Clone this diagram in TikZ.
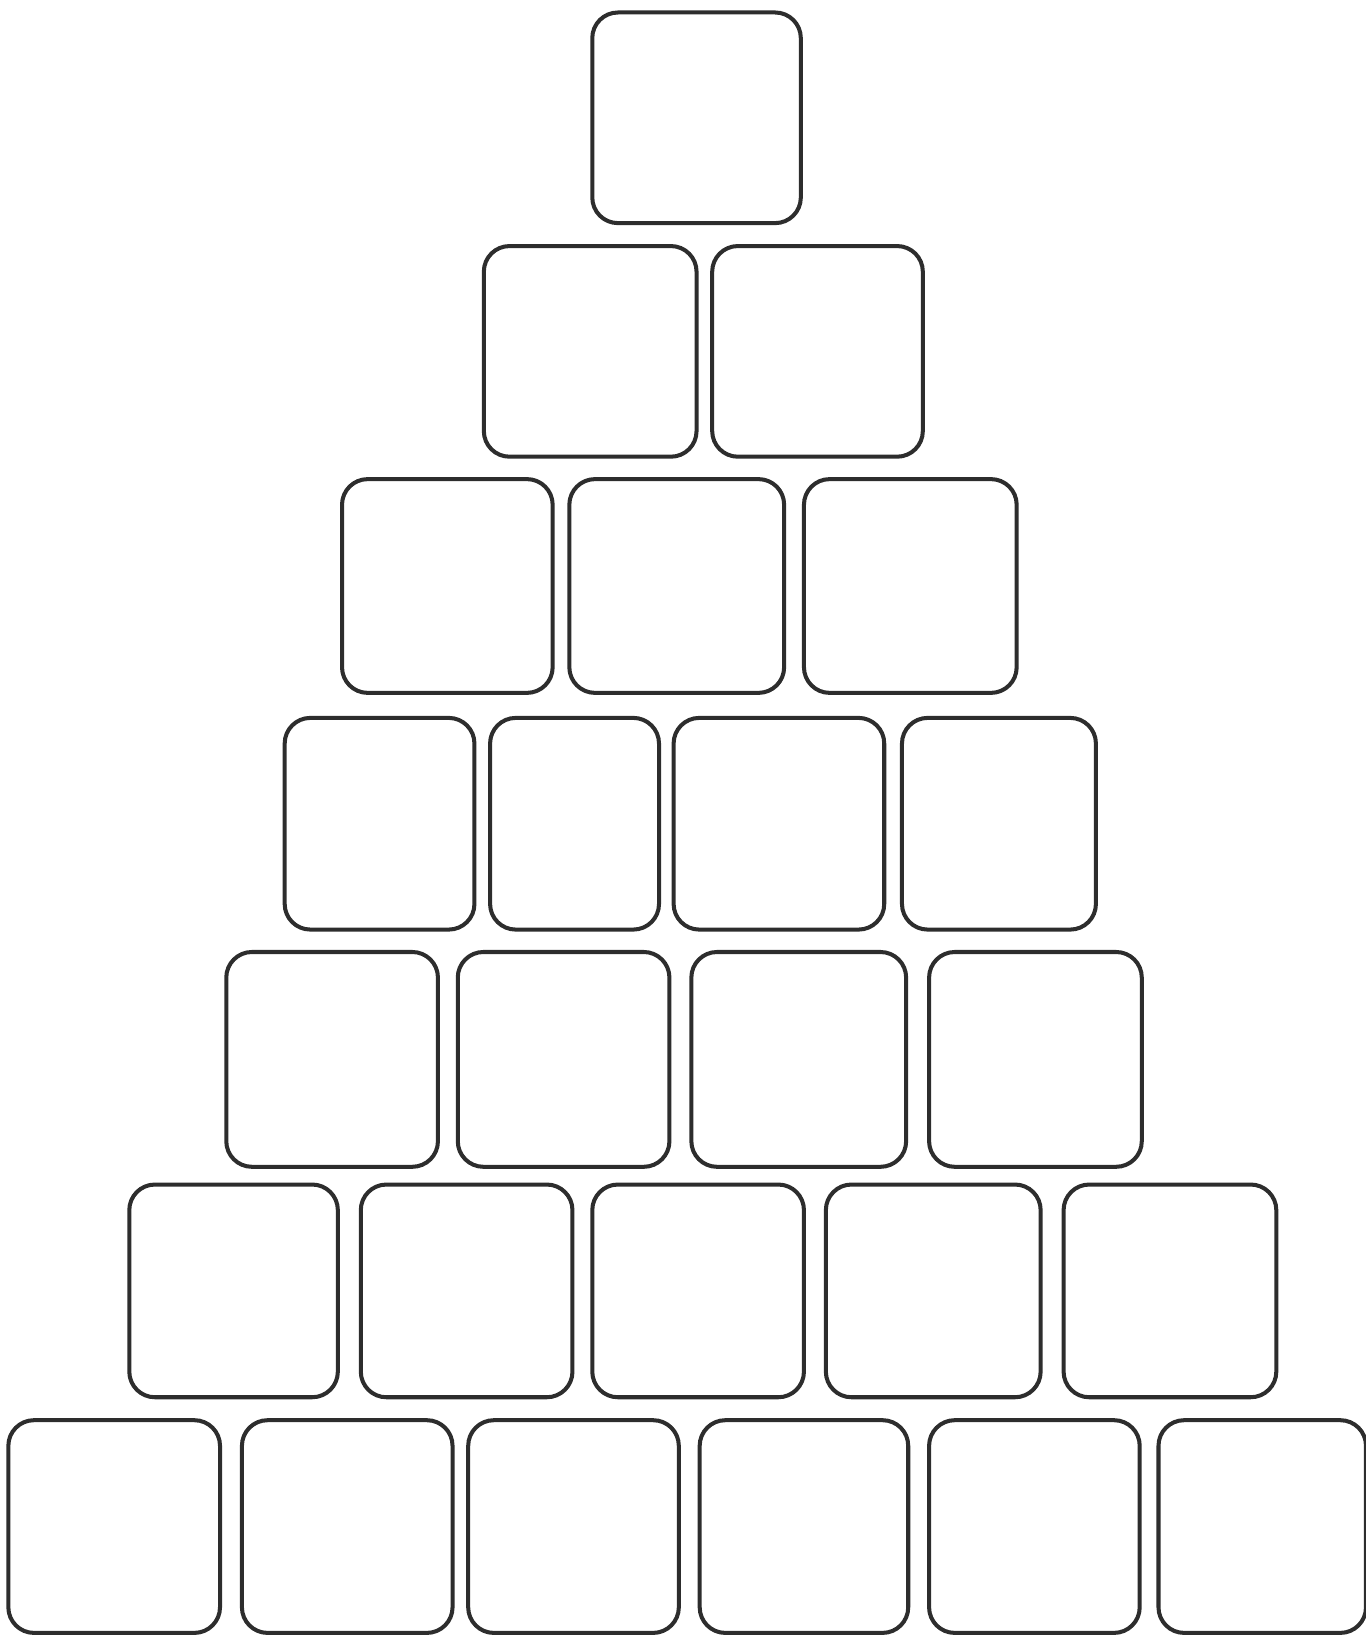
\documentclass[tikz,border=0pt]{standalone}
\usepackage{tikz}
\usetikzlibrary{positioning}
\definecolor{linecolor}{RGB}{45,45,45}

\tikzset{
  cell/.style={
    draw=linecolor,
    line width=1.1pt,
    rounded corners=7pt,
    inner sep=0pt,
    outer sep=0pt
  }
}

\begin{document}
\begin{tikzpicture}[scale=1]

\useasboundingbox (0,0) rectangle (13.10,15.68);

% ---- Row 1 (top) ----
\node[cell, minimum width=2.0cm, minimum height=2.02cm] (r1c1) at (6.68,14.55) {};

% ---- Row 2 ----
\foreach \x/\w [count=\i] in {5.66/2.04,7.84/2.02} {
  \node[cell, minimum width=\w cm, minimum height=2.02cm] (r2c\i) at (\x,12.31) {};
}

% ---- Row 3 ----
\foreach \x/\w [count=\i] in {4.29/2.02,6.49/2.06,8.73/2.04} {
  \node[cell, minimum width=\w cm, minimum height=2.05cm] (r3c\i) at (\x,10.06) {};
}

% ---- Row 4 ----
\foreach \x/\w [count=\i] in {3.64/1.82,5.51/1.62,7.47/2.02,9.58/1.86} {
  \node[cell, minimum width=\w cm, minimum height=2.03cm] (r4c\i) at (\x,7.78) {};
}

% ---- Row 5 ----
\foreach \x/\w [count=\i] in {3.185/2.03,5.405/2.03,7.66/2.06,9.93/2.04} {
  \node[cell, minimum width=\w cm, minimum height=2.06cm] (r5c\i) at (\x,5.52) {};
}

% ---- Row 6 ----
\foreach \x/\w [count=\i] in {2.24/2.0,4.475/2.03,6.695/2.03,8.95/2.06,11.22/2.04} {
  \node[cell, minimum width=\w cm, minimum height=2.04cm] (r6c\i) at (\x,3.30) {};
}

% ---- Row 7 (bottom) ----
\foreach \x/\w [count=\i] in {1.095/2.03,3.33/2.02,5.50/2.02,7.71/2.0,9.92/2.02,12.105/1.99} {
  \node[cell, minimum width=\w cm, minimum height=2.04cm] (r7c\i) at (\x,1.04) {};
}

\end{tikzpicture}
\end{document}
